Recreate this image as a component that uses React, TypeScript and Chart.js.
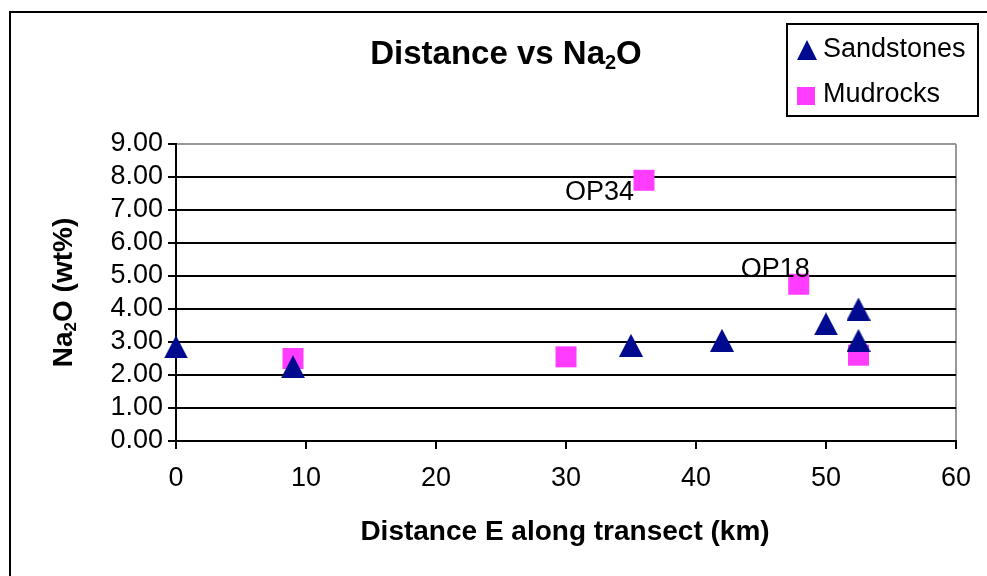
import React, { useEffect, useRef } from 'react';
import { Chart, registerables } from 'chart.js';

Chart.register(...registerables);

// Distance east along the transect (km) and Na2O content (wt%)
const sandstoneKm = [0, 9, 35, 42, 50, 52.5, 52.5];
const sandstoneNa2O = [2.85, 2.25, 2.9, 3.05, 3.55, 4.0, 3.05];

const mudrockKm = [9, 30, 36, 47.9, 52.5];
const mudrockNa2O = [2.5, 2.55, 7.9, 4.75, 2.6];
const mudrockSample = ['', '', 'OP34', 'OP18', ''];

const xTicks = [0, 10, 20, 30, 40, 50, 60];
const yTicks = [0, 1, 2, 3, 4, 5, 6, 7, 8, 9];

const NAVY = '#000a8f';
const PINK = '#ff3cff';
const FONT = '"Liberation Sans", Arial, Helvetica, sans-serif';

function triangleImage(w: number, h: number, color: string): HTMLCanvasElement {
  const c = document.createElement('canvas');
  c.width = w;
  c.height = h;
  const g = c.getContext('2d')!;
  g.fillStyle = color;
  g.beginPath();
  g.moveTo(w / 2, 0);
  g.lineTo(w, h);
  g.lineTo(0, h);
  g.closePath();
  g.fill();
  return c;
}

type Run = { t: string; sub?: boolean };

function drawRuns(
  ctx: CanvasRenderingContext2D,
  runs: Run[],
  x: number,
  y: number,
  size: number,
  bold: boolean,
  align: 'center' | 'left' | 'right'
) {
  const w = bold ? 'bold ' : '';
  const mainFont = `${w}${size}px ${FONT}`;
  const subFont = `${w}${Math.round(size * 0.62)}px ${FONT}`;
  let total = 0;
  const widths = runs.map((r) => {
    ctx.font = r.sub ? subFont : mainFont;
    const m = ctx.measureText(r.t).width;
    total += m;
    return m;
  });
  let cx = align === 'center' ? x - total / 2 : align === 'right' ? x - total : x;
  ctx.textAlign = 'left';
  ctx.textBaseline = 'alphabetic';
  runs.forEach((r, i) => {
    ctx.font = r.sub ? subFont : mainFont;
    ctx.fillText(r.t, cx, r.sub ? y + size * 0.16 : y);
    cx += widths[i];
  });
}

export default function App() {
  const ref = useRef<HTMLCanvasElement | null>(null);

  useEffect(() => {
    if (!ref.current) return;
    const tri = triangleImage(24, 23, NAVY);
    const legendTri = triangleImage(20, 20, NAVY);

    const decor = {
      id: 'decor',
      beforeDraw(chart: Chart) {
        const ctx = chart.ctx;
        ctx.save();
        ctx.fillStyle = '#ffffff';
        ctx.fillRect(0, 0, chart.width, chart.height);
        ctx.strokeStyle = '#000000';
        ctx.lineWidth = 2;
        ctx.strokeRect(10, 12, chart.width + 20, chart.height + 20);
        ctx.restore();
      },
      afterDraw(chart: Chart) {
        const ctx = chart.ctx;
        const area = chart.chartArea;
        ctx.save();
        ctx.fillStyle = '#000000';

        // chart title
        drawRuns(ctx, [{ t: 'Distance vs Na' }, { t: '2', sub: true }, { t: 'O' }], 506, 64, 33, true, 'center');

        // x axis title
        drawRuns(ctx, [{ t: 'Distance E along transect (km)' }], (area.left + area.right) / 2 - 1, 540, 28, true, 'center');

        // y axis title
        ctx.save();
        ctx.translate(62, (area.top + area.bottom) / 2);
        ctx.rotate(-Math.PI / 2);
        drawRuns(
          ctx,
          [{ t: 'Na' }, { t: '2', sub: true }, { t: 'O (wt%)' }],
          0,
          10,
          28,
          true,
          'center'
        );
        ctx.restore();

        // sample names beside selected mudrock points
        const meta = chart.getDatasetMeta(1);
        mudrockSample.forEach((name, i) => {
          if (!name) return;
          const p = meta.data[i];
          ctx.font = `27px ${FONT}`;
          ctx.textBaseline = 'alphabetic';
          ctx.textAlign = 'right';
          if (name === 'OP34') {
            ctx.fillText(name, p.x - 10, p.y + 20);
          } else {
            ctx.fillText(name, p.x + 11, p.y - 7);
          }
        });

        // legend
        ctx.strokeStyle = '#000000';
        ctx.lineWidth = 2;
        ctx.strokeRect(787, 24, 191, 92);
        ctx.drawImage(legendTri, 797, 40);
        ctx.fillStyle = PINK;
        ctx.fillRect(797, 87, 18, 18);
        ctx.fillStyle = '#000000';
        ctx.font = `27px ${FONT}`;
        ctx.textAlign = 'left';
        ctx.textBaseline = 'alphabetic';
        ctx.fillText(String(chart.data.datasets[0].label), 823, 57);
        ctx.fillText(String(chart.data.datasets[1].label), 823, 102);
        ctx.restore();
      },
    };

    const chart = new Chart(ref.current, {
      type: 'scatter',
      data: {
        datasets: [
          {
            label: 'Sandstones',
            data: sandstoneKm.map((x, i) => ({ x, y: sandstoneNa2O[i] })),
            pointStyle: tri,
            pointRadius: 12,
            backgroundColor: NAVY,
            borderWidth: 0,
            clip: false,
          },
          {
            label: 'Mudrocks',
            data: mudrockKm.map((x, i) => ({ x, y: mudrockNa2O[i] })),
            pointStyle: 'rect',
            pointRadius: 14.85,
            backgroundColor: PINK,
            borderWidth: 0,
            clip: false,
          },
        ],
      },
      options: {
        responsive: false,
        animation: false,
        layout: { padding: { top: 144, right: 31, left: 0, bottom: 0 } },
        plugins: {
          legend: { display: false },
          title: { display: false },
          tooltip: { enabled: false },
        },
        scales: {
          x: {
            type: 'linear',
            min: xTicks[0],
            max: xTicks[xTicks.length - 1],
            afterFit: (s: any) => {
              s.height = 135;
            },
            afterBuildTicks: (s: any) => {
              s.ticks = xTicks.map((v) => ({ value: v }));
            },
            ticks: {
              color: '#000000',
              font: { family: FONT, size: 27 },
              padding: 13,
              maxRotation: 0,
              autoSkip: false,
              callback: (v: any) => String(v),
            },
            grid: {
              color: (c: any) => (c.tick && c.tick.value === 60 ? '#999999' : 'rgba(0,0,0,0)'),
              tickColor: '#000000',
              lineWidth: 2,
              tickLength: 8,
            },
            border: { color: '#000000', width: 2 },
          },
          y: {
            type: 'linear',
            min: yTicks[0],
            max: yTicks[yTicks.length - 1],
            afterFit: (s: any) => {
              s.width = 176;
            },
            afterBuildTicks: (s: any) => {
              s.ticks = yTicks.map((v) => ({ value: v }));
            },
            ticks: {
              color: '#000000',
              font: { family: FONT, size: 27 },
              padding: 5,
              autoSkip: false,
              callback: (v: any) => Number(v).toFixed(2),
            },
            grid: {
              color: (c: any) => (c.tick && c.tick.value === 9 ? '#999999' : '#000000'),
              tickColor: '#000000',
              lineWidth: 2,
              tickLength: 8,
            },
            border: { color: '#000000', width: 2 },
          },
        },
      },
      plugins: [decor],
    });

    return () => chart.destroy();
  }, []);

  return (
    <div style={{ position: 'absolute', left: 0, top: 0, width: 987, height: 576 }}>
      <canvas ref={ref} width={987} height={576} style={{ display: 'block' }} />
    </div>
  );
}
